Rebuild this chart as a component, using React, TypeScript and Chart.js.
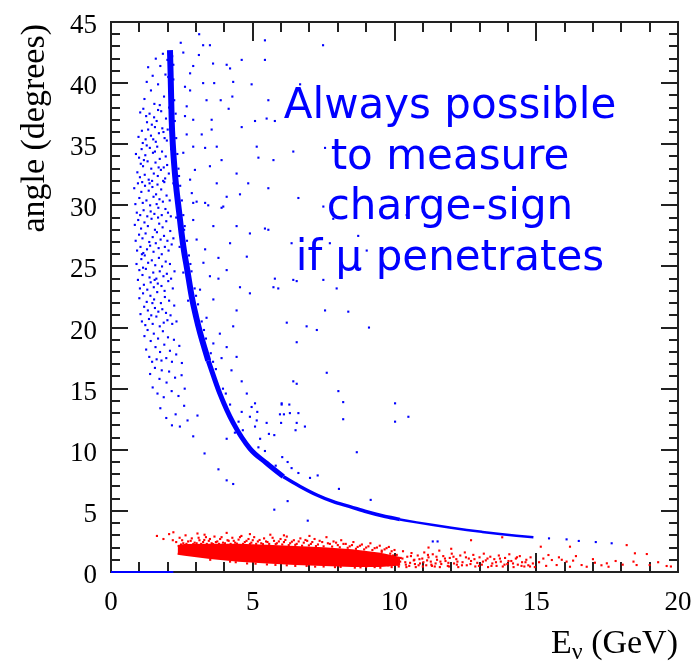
import { useEffect, useRef } from 'react';
import { Chart, registerables } from 'chart.js';

Chart.register(...registerables);

// ---- axis definitions ----
const xMin = 0;
const xMax = 20;
const yMin = 0;
const yMax = 45;
const xTickValues = [0, 5, 10, 15, 20];
const xTickLabels = ['0', '5', '10', '15', '20'];
const yTickValues = [0, 5, 10, 15, 20, 25, 30, 35, 40, 45];
const yTickLabels = ['0', '5', '10', '15', '20', '25', '30', '35', '40', '45'];
const xMinorStep = 1;
const yMinorStep = 1;
const xTitleMain = 'E';
const xTitleSub = 'ν';
const xTitleRest = ' (GeV)';
const yTitle = 'angle (degrees)';
const noteLines = ['Always possible', 'to measure', 'charge-sign', 'if μ penetrates'];

// ---- blue: dense ridge (centre line of the band) ----
const blueRidgeTop = [
  [2.08, 42.7], [2.1, 41.0], [2.12, 39.0], [2.14, 37.0], [2.18, 35.0], [2.23, 33.3],
  [2.3, 31.5], [2.4, 29.5], [2.49, 27.7], [2.58, 26.2], [2.67, 25.0], [2.85, 22.5],
  [3.0, 20.9], [3.14, 19.6], [3.43, 17.3],
];
const blueRidgeMid = [
  [3.43, 17.3], [3.84, 14.6], [4.31, 12.2], [4.9, 10.1], [5.49, 8.9], [6.08, 7.8],
];
const blueRidgeLow = [
  [6.08, 7.8], [6.67, 7.0], [7.26, 6.3], [7.84, 5.75], [8.43, 5.35], [9.02, 4.93],
  [9.6, 4.58], [10.19, 4.3],
];
const blueRidgeTail = [
  [10.19, 4.3], [10.78, 4.06], [11.37, 3.84], [12.0, 3.62], [12.55, 3.44], [13.1, 3.28],
  [13.72, 3.11], [14.3, 2.97], [14.9, 2.84],
];
const blueZeroLine = [[0, 0], [2.2, 0]];

// ---- blue: events scattered just beside the ridge ----
const blueRidgeFringe = [
  [2.16, 42.2], [2.2, 40.3], [2.23, 38.6], [2.25, 36.9], [2.3, 35.5], [2.34, 34.2], [2.38, 33.0], [2.44, 31.6],
  [2.5, 30.4], [2.55, 29.2], [2.6, 28.3], [2.68, 27.1], [2.75, 25.9], [2.84, 24.6], [2.95, 23.2], [3.07, 21.9],
  [3.2, 20.5], [3.35, 19.1], [3.52, 17.9], [3.7, 16.6], [3.95, 15.0], [4.2, 13.7], [4.5, 12.3], [2.2, 41.5],
  [2.28, 37.5], [2.4, 32.4], [2.58, 28.0], [2.8, 25.2], [3.0, 22.6], [3.28, 19.8], [3.6, 17.2], [4.05, 14.6],
  [4.65, 11.6], [5.2, 10.2], [2.02, 40.5], [2.05, 38.0], [2.12, 34.6], [2.2, 31.8], [2.3, 29.0], [2.42, 26.6],
  [2.55, 24.5], [2.72, 22.2],
];

// ---- blue: scattered events left of the ridge ----
const blueLeftCloud = [
  [1.31, 41.3], [1.47, 40.6], [1.58, 42.0], [1.74, 41.4], [1.83, 42.4], [1.92, 40.7], [1.41, 39.4], [1.66, 39.9],
  [1.99, 41.9], [1.18, 38.7], [1.53, 38.3], [1.87, 38.9], [1.26, 40.1], [1.72, 38.2],
  [1.03, 37.6], [1.09, 36.1], [1.14, 37.9], [1.22, 35.4], [1.27, 36.8], [1.36, 37.5], [1.41, 35.7], [1.44, 36.6],
  [1.52, 37.2], [1.58, 35.2], [1.61, 36.9], [1.69, 35.9], [1.77, 37.7], [1.81, 36.3], [1.89, 35.5], [1.94, 37.1],
  [2.0, 36.2], [0.97, 35.6], [1.12, 35.1], [1.31, 36.2], [1.49, 35.4], [1.66, 37.8], [1.85, 36.0], [1.24, 37.3],
  [1.55, 36.4], [1.97, 35.3],
  [0.88, 34.2], [0.93, 32.7], [0.99, 33.9], [1.02, 32.3], [1.08, 34.6], [1.13, 33.2], [1.19, 32.5], [1.21, 34.1],
  [1.29, 33.6], [1.33, 32.1], [1.37, 34.7], [1.42, 33.0], [1.48, 34.3], [1.51, 32.6], [1.57, 33.5], [1.63, 34.8],
  [1.65, 32.4], [1.72, 33.8], [1.76, 32.9], [1.8, 34.4], [1.86, 33.1], [1.91, 32.2], [1.93, 34.0], [1.98, 33.3],
  [2.04, 32.6], [1.05, 33.4], [1.26, 34.9], [1.45, 32.0], [1.68, 33.1], [1.84, 32.0], [1.16, 33.7], [1.55, 34.4],
  [0.82, 31.4], [0.86, 30.1], [0.91, 29.4], [0.95, 31.8], [1.0, 30.6], [1.03, 29.2], [1.07, 31.1], [1.12, 30.2],
  [1.15, 29.6], [1.2, 31.6], [1.25, 30.4], [1.28, 29.1], [1.33, 31.2], [1.38, 30.0], [1.4, 29.5], [1.46, 31.5],
  [1.5, 30.7], [1.53, 29.3], [1.59, 30.9], [1.64, 31.7], [1.67, 29.8], [1.71, 30.5], [1.77, 31.3], [1.79, 29.2],
  [1.83, 30.3], [1.88, 31.9], [1.92, 29.7], [1.96, 30.8], [2.01, 29.4], [2.07, 30.4], [2.11, 29.1], [1.1, 31.9],
  [1.36, 31.8], [1.61, 30.1],
  [0.84, 28.4], [0.87, 27.1], [0.92, 26.3], [0.96, 28.8], [0.99, 27.6], [1.04, 26.6], [1.06, 28.1], [1.11, 27.3],
  [1.14, 26.1], [1.18, 28.6], [1.22, 27.7], [1.27, 26.4], [1.3, 28.3], [1.35, 27.0], [1.38, 26.7], [1.43, 28.9],
  [1.47, 27.4], [1.5, 26.2], [1.55, 28.0], [1.58, 26.9], [1.62, 27.8], [1.68, 26.5], [1.7, 28.5], [1.75, 27.2],
  [1.79, 26.0], [1.82, 28.2], [1.87, 27.5], [1.9, 26.6], [1.95, 28.7], [1.99, 27.1], [2.03, 26.3], [2.09, 27.9],
  [2.14, 26.8], [2.2, 27.3], [1.09, 26.0], [1.66, 29.0],
  [0.9, 25.2], [0.95, 23.9], [1.0, 24.7], [1.02, 23.2], [1.07, 25.6], [1.11, 24.3], [1.16, 23.5], [1.19, 25.9],
  [1.23, 24.8], [1.28, 23.1], [1.31, 25.3], [1.36, 24.1], [1.4, 23.7], [1.44, 25.5], [1.49, 24.5], [1.51, 23.3],
  [1.56, 25.1], [1.6, 24.0], [1.65, 23.6], [1.69, 25.7], [1.72, 24.6], [1.78, 23.4], [1.8, 25.0], [1.85, 24.2],
  [1.89, 23.0], [1.93, 25.4], [1.97, 24.4], [2.02, 23.8], [2.08, 25.2], [2.12, 24.0], [2.18, 23.2], [2.24, 24.6],
  [1.13, 24.9], [1.54, 23.9],
  [1.0, 22.4], [1.04, 21.1], [1.09, 20.5], [1.13, 22.8], [1.17, 21.7], [1.21, 20.2], [1.26, 22.1], [1.3, 21.4],
  [1.34, 20.7], [1.39, 22.6], [1.42, 21.0], [1.47, 20.3], [1.52, 22.3], [1.55, 21.6], [1.6, 20.9], [1.63, 22.9],
  [1.67, 21.3], [1.72, 20.1], [1.76, 22.0], [1.81, 21.5], [1.86, 20.4], [1.9, 22.5], [1.94, 21.2], [1.99, 20.6],
  [2.05, 22.2], [2.1, 21.0], [2.16, 20.3], [2.23, 21.8], [2.31, 20.5], [1.46, 22.0],
  [1.18, 19.3], [1.24, 18.2], [1.29, 19.8], [1.35, 17.6], [1.4, 18.9], [1.45, 17.2], [1.51, 19.5], [1.57, 18.4],
  [1.61, 17.4], [1.66, 19.1], [1.73, 18.0], [1.78, 17.3], [1.83, 19.7], [1.88, 18.6], [1.95, 17.5], [2.01, 19.2],
  [2.08, 18.1], [2.15, 17.2], [2.22, 19.0], [2.3, 17.8], [2.41, 18.5], [2.5, 17.1],
  [1.38, 16.2], [1.47, 15.1], [1.55, 16.7], [1.64, 14.6], [1.71, 15.8], [1.79, 16.5], [1.86, 14.3], [1.96, 15.5],
  [2.05, 16.4], [2.14, 14.8], [2.26, 15.9], [2.38, 14.4], [2.49, 16.1], [2.6, 15.0],
  [1.74, 13.4], [1.95, 12.6], [2.15, 12.0], [2.28, 12.9], [2.43, 11.9], [2.58, 13.6], [2.7, 12.4], [2.9, 11.1],
  [3.05, 12.8], [3.3, 9.7], [3.79, 8.4], [4.08, 7.5], [4.31, 7.2],
];

// ---- blue: scattered events right of the ridge ----
const blueRightCloud = [
  [3.11, 44.0], [2.46, 43.3], [3.25, 43.1], [3.49, 43.1], [2.55, 42.5], [3.1, 42.3], [3.6, 41.6], [4.08, 41.5],
  [4.61, 41.9], [5.43, 43.5], [5.43, 41.9], [2.9, 41.4], [2.79, 40.8], [4.2, 41.2], [3.64, 40.0], [3.25, 40.0],
  [2.61, 39.7], [2.79, 39.4], [4.31, 40.1], [4.96, 39.9], [5.55, 38.6], [3.87, 38.6], [4.28, 38.9], [3.37, 38.6],
  [2.67, 38.1], [4.15, 37.9], [2.61, 37.3], [2.9, 37.0], [3.55, 37.0], [4.61, 36.4], [5.08, 36.9], [5.49, 37.1],
  [2.67, 35.8], [3.2, 35.8], [3.55, 36.2], [2.9, 34.8], [3.32, 34.7], [3.73, 34.8], [5.14, 34.8], [2.55, 34.3],
  [3.9, 33.7], [3.49, 33.2], [2.96, 32.9], [4.43, 32.6], [4.84, 31.8], [5.2, 33.9], [2.79, 32.1], [3.73, 31.8],
  [2.85, 31.0], [3.02, 30.3], [3.32, 30.2], [3.96, 29.9], [4.55, 30.9], [4.08, 30.7], [5.55, 31.4],
  [2.9, 30.2], [3.43, 30.0], [3.9, 29.8], [2.9, 28.8], [3.61, 28.3], [4.43, 28.3], [4.9, 27.7], [3.02, 27.2],
  [4.2, 26.9], [3.32, 26.4], [3.79, 25.7], [4.79, 25.8], [3.26, 25.3], [4.08, 24.7], [3.49, 24.2], [3.79, 24.0],
  [4.55, 23.3], [3.14, 23.1], [4.9, 22.8], [3.61, 22.3], [4.43, 21.4], [3.37, 20.8], [3.84, 19.5], [4.31, 20.1],
  [3.61, 18.7], [4.08, 18.4], [3.9, 17.5], [4.43, 17.6], [4.25, 16.5], [4.61, 15.6], [4.79, 14.6], [4.96, 13.5],
  [4.61, 13.1], [5.14, 12.4], [4.08, 10.9], [4.37, 11.4],
  [5.43, 28.1], [5.55, 28.0], [5.78, 24.0], [5.9, 23.2], [6.2, 20.4], [6.55, 23.8], [6.31, 13.0], [6.55, 12.2],
];

// ---- blue: sparse events far from the ridge ----
const blueFarCloud = [
  [7.48, 43.1], [6.67, 39.9], [5.78, 36.9], [5.73, 33.7], [6.43, 34.4], [7.55, 34.7], [6.61, 30.6], [7.49, 29.9],
  [7.84, 28.9], [10.43, 29.2], [8.72, 27.5], [7.72, 26.9], [9.02, 26.3], [6.37, 26.9], [6.43, 23.9], [7.49, 23.9],
  [7.96, 23.2], [5.73, 23.3], [8.37, 21.3], [7.55, 21.4], [6.9, 20.1], [6.55, 18.8], [7.26, 19.8], [6.43, 15.6],
  [6.55, 15.4], [7.61, 16.3], [8.02, 14.8], [8.19, 13.9], [6.02, 13.7], [9.1, 20.0],
  [5.08, 13.8], [6.02, 13.8], [6.29, 13.7], [10.02, 13.8], [5.16, 13.1], [5.96, 12.9], [6.1, 12.9], [6.61, 13.0],
  [8.19, 12.5], [10.49, 12.7], [10.02, 12.3], [4.9, 12.7], [5.08, 11.9], [5.49, 12.2], [6.0, 12.2], [6.84, 11.9],
  [6.51, 11.6], [5.57, 11.3], [5.76, 11.2], [5.26, 10.9], [5.43, 9.9], [8.67, 9.8], [6.04, 9.4], [6.23, 9.0],
  [5.81, 8.7], [6.37, 8.5], [6.61, 8.1], [7.02, 7.7], [7.29, 7.9], [8.04, 6.8], [9.16, 5.9], [6.23, 5.8],
  [5.76, 5.1], [6.94, 4.2], [11.35, 2.5], [11.52, 2.5],
  [16.07, 2.67], [16.5, 2.54], [17.1, 2.45], [17.66, 2.35], [15.45, 2.75],
];

// ---- red: dense core outline (upper and lower edge of the solid band) ----
const redCoreUpper = [
  [2.35, 2.12], [2.6, 2.2], [3.5, 2.22], [4.5, 2.22], [5.5, 2.15], [6.5, 2.05],
  [7.5, 1.95], [8.5, 1.78], [9.5, 1.5], [10.2, 1.15],
];
const redCoreLower = [
  [2.35, 1.5], [2.6, 1.42], [3.5, 1.15], [4.5, 0.93], [5.5, 0.78], [6.5, 0.66],
  [7.5, 0.57], [8.5, 0.5], [9.5, 0.5], [10.2, 0.62],
];

// ---- red: scattered events around the core ----
const redScatter = [
  [1.62, 2.95], [1.85, 2.7], [2.05, 3.1], [2.18, 2.6], [2.3, 2.45], [2.42, 2.8], [2.55, 2.35], [2.63, 3.0],
  [2.72, 2.5], [2.85, 2.75], [2.95, 2.4], [3.05, 3.15], [3.12, 2.6], [3.25, 2.45], [3.35, 2.85], [3.45, 2.55],
  [3.55, 2.35], [3.65, 2.9], [3.75, 2.5], [3.85, 2.7], [3.95, 2.4], [4.08, 3.2], [4.15, 2.55], [4.28, 2.8],
  [4.38, 2.4], [4.5, 2.65], [4.6, 2.95], [4.72, 2.45], [4.85, 2.7], [4.95, 2.4], [5.05, 2.85], [5.18, 2.5],
  [5.3, 2.35], [5.4, 2.75], [5.52, 2.45], [5.62, 3.05], [5.75, 2.55], [5.85, 2.35], [5.98, 2.7], [6.1, 2.45],
  [6.2, 2.9], [6.32, 2.35], [6.45, 2.6], [6.55, 2.3], [6.68, 2.75], [6.8, 2.4], [6.92, 2.55], [7.05, 2.3],
  [7.18, 2.7], [7.3, 2.25], [7.45, 2.45], [7.6, 2.85], [7.72, 2.3], [7.85, 2.5], [8.0, 2.2], [8.12, 2.6],
  [8.28, 2.3], [8.42, 2.1], [8.55, 2.45], [8.7, 2.05], [8.85, 2.25], [9.0, 2.0], [9.15, 2.35], [9.3, 1.95],
  [9.48, 2.15], [9.65, 1.85], [9.8, 2.05], [10.0, 1.8],
  [2.47, 2.25], [2.51, 2.6], [2.66, 2.3], [2.78, 2.2], [2.81, 2.55], [2.9, 2.28], [3.02, 2.35], [3.09, 2.8],
  [3.18, 2.3], [3.29, 2.62], [3.38, 2.3], [3.49, 2.7], [3.6, 2.28], [3.7, 2.45], [3.81, 2.3], [3.9, 2.85],
  [4.02, 2.35], [4.11, 2.6], [4.22, 2.3], [4.33, 2.55], [4.44, 2.32], [4.55, 2.85], [4.66, 2.3], [4.78, 2.55],
  [4.9, 2.3], [5.0, 2.6], [5.12, 2.3], [5.24, 2.62], [5.36, 2.28], [5.47, 2.5], [5.58, 2.3], [5.7, 2.8],
  [5.81, 2.28], [5.92, 2.5], [6.04, 2.25], [6.15, 2.62], [6.27, 2.2], [6.38, 2.48], [6.5, 2.22], [6.62, 2.5],
  [6.74, 2.15], [6.86, 2.62], [6.98, 2.18], [7.1, 2.45], [7.23, 2.12], [7.36, 2.55], [7.5, 2.1], [7.65, 2.35],
  [7.8, 2.08], [7.94, 2.4], [8.07, 2.02], [8.2, 2.3], [8.35, 1.98], [8.5, 2.2], [8.64, 1.9], [8.78, 2.15],
  [8.93, 1.85], [9.08, 2.1], [9.22, 1.8], [9.38, 2.0], [9.55, 1.75], [9.72, 1.95], [9.9, 1.7],
  [3.3, 3.05], [4.9, 3.1], [6.1, 3.0], [7.0, 2.95], [2.2, 3.25],
  [3.5, 1.0], [4.2, 0.85], [4.8, 0.7], [5.5, 0.62], [6.2, 0.55], [6.9, 0.5], [7.5, 0.45], [8.1, 0.42],
  [8.8, 0.38], [9.3, 0.4], [4.4, 0.8], [5.1, 0.68], [5.8, 0.58], [6.5, 0.5], [7.2, 0.44], [7.9, 0.4],
  [8.6, 0.36], [9.0, 0.42], [9.5, 0.35], [9.9, 0.4],
  [9.55, 1.65], [9.62, 0.9], [9.7, 1.3], [9.78, 0.55], [9.85, 1.5], [9.92, 1.05], [10.0, 0.7], [10.08, 1.4],
  [10.15, 0.45], [10.22, 1.15], [10.3, 1.7], [10.38, 0.8], [10.45, 1.25], [10.52, 0.5], [10.6, 1.55], [10.68, 0.95],
  [10.75, 0.4], [10.82, 1.35], [10.9, 0.7], [10.98, 1.1], [11.05, 1.6], [11.12, 0.55], [11.2, 1.2], [11.28, 0.85],
  [11.35, 1.45], [11.42, 0.45], [11.5, 1.0], [11.58, 1.75], [11.65, 0.65], [11.72, 1.3], [11.8, 0.9], [11.88, 0.5],
  [11.95, 1.15], [12.02, 1.5], [12.1, 0.7], [12.18, 1.05], [12.25, 0.4], [12.32, 1.35], [12.4, 0.8], [12.48, 1.6],
  [12.55, 0.55], [12.62, 1.1], [12.7, 0.9], [12.78, 1.4], [12.85, 0.45], [12.92, 0.75], [13.0, 1.2], [13.08, 0.6],
  [13.15, 1.5], [13.22, 0.95], [13.3, 0.4], [13.38, 1.25], [13.45, 0.7], [13.52, 1.05], [13.6, 0.5], [13.68, 1.35],
  [13.75, 0.85], [13.82, 0.45], [13.9, 1.15], [13.98, 0.65], [14.05, 1.45], [14.12, 0.9], [14.2, 0.4], [14.28, 1.1],
  [14.35, 0.6], [14.42, 1.3], [14.5, 0.8], [14.58, 0.45], [14.65, 1.0], [14.72, 0.55], [14.8, 1.2], [14.88, 0.7],
  [14.95, 0.4],
  [9.6, 0.7], [9.9, 0.6], [10.1, 1.0], [10.4, 0.6], [10.7, 1.0], [11.0, 0.45], [11.3, 0.6], [11.6, 0.4],
  [11.9, 0.75], [12.2, 0.6], [10.2, 0.85], [10.55, 0.75], [10.85, 0.55], [11.15, 0.95], [11.45, 0.7],
  [9.58, 1.2], [9.75, 0.8], [9.95, 1.35], [10.12, 0.6], [10.28, 1.1], [10.42, 0.4], [10.58, 1.3], [10.72, 0.65],
  [10.88, 1.05], [11.02, 0.8], [11.18, 1.4], [11.32, 0.5], [11.48, 1.25], [11.62, 0.85], [11.78, 1.1], [11.92, 0.45],
  [12.08, 1.25], [12.22, 0.85], [12.38, 0.55], [12.52, 1.2], [12.68, 0.65], [12.82, 1.05], [12.98, 0.5], [13.12, 0.85],
  [13.28, 1.1], [13.42, 0.5], [13.58, 0.8], [13.72, 1.1], [13.88, 0.6], [14.02, 0.9], [14.18, 0.7], [14.32, 1.2],
  [14.48, 0.5], [14.62, 0.8], [14.78, 0.45],
  [15.43, 1.39], [15.55, 0.98], [15.72, 0.57], [16.07, 0.85], [16.3, 0.93], [16.19, 0.43], [16.6, 0.57], [16.78, 0.43],
  [17.07, 0.76], [17.49, 0.71], [17.55, 0.43], [18.43, 0.85], [18.54, 0.57], [18.9, 1.47], [19.0, 0.57], [19.6, 0.49],
  [18.48, 1.53], [18.19, 2.2], [15.16, 2.07], [16.19, 2.07], [15.8, 1.2], [15.1, 0.8], [15.25, 1.1], [15.35, 0.5],
  [15.9, 1.0], [16.4, 1.3], [17.0, 1.05], [17.3, 0.55], [17.8, 0.9], [18.05, 0.6], [19.3, 0.8], [19.75, 0.45],
  [12.7, 2.6], [13.8, 2.84], [11.2, 2.0], [12.0, 1.9],
];

const BLUE = '#0000ff';
const RED = '#ff0000';
const AXIS = '#222222';
const SERIF = '"Liberation Serif", "Times New Roman", serif';

const toXY = (arr: number[][]) => arr.map(([x, y]) => ({ x, y }));

const rootAxesPlugin = {
  id: 'rootAxes',
  beforeDatasetsDraw(chart: any) {
    const { ctx, chartArea: a, scales } = chart;
    const xs = scales.x;
    const ys = scales.y;
    ctx.save();
    ctx.strokeStyle = AXIS;
    ctx.lineWidth = 2;
    ctx.beginPath();
    for (let v = xMin; v <= xMax + 1e-9; v += xMinorStep) {
      const px = Math.round(xs.getPixelForValue(v));
      const major = xTickValues.includes(v);
      const len = major ? 19 : 10;
      ctx.moveTo(px, a.bottom);
      ctx.lineTo(px, a.bottom - len);
      ctx.moveTo(px, a.top);
      ctx.lineTo(px, a.top + len);
    }
    for (let v = yMin; v <= yMax + 1e-9; v += yMinorStep) {
      const py = Math.round(ys.getPixelForValue(v));
      const major = yTickValues.includes(v);
      const len = major ? 17 : 9;
      ctx.moveTo(a.left, py);
      ctx.lineTo(a.left + len, py);
      ctx.moveTo(a.right, py);
      ctx.lineTo(a.right - len, py);
    }
    ctx.stroke();
    ctx.strokeRect(a.left, a.top, a.right - a.left, a.bottom - a.top);
    ctx.restore();
  },
  afterDraw(chart: any) {
    const { ctx, chartArea: a, scales } = chart;
    const xs = scales.x;
    const ys = scales.y;
    ctx.save();
    ctx.fillStyle = '#000';
    ctx.font = `27px ${SERIF}`;
    ctx.textBaseline = 'alphabetic';
    ctx.textAlign = 'center';
    xTickValues.forEach((v, i) => {
      ctx.fillText(xTickLabels[i], xs.getPixelForValue(v), a.bottom + 38);
    });
    ctx.textAlign = 'right';
    yTickValues.forEach((v, i) => {
      ctx.fillText(yTickLabels[i], a.left - 14, ys.getPixelForValue(v) + 11);
    });

    // y title
    ctx.save();
    ctx.font = `34px ${SERIF}`;
    ctx.translate(44, a.top + 2);
    ctx.rotate(-Math.PI / 2);
    ctx.textAlign = 'right';
    ctx.fillText(yTitle, 0, 0);
    ctx.restore();

    // x title with subscript
    const main = `34px ${SERIF}`;
    const sub = `24px ${SERIF}`;
    ctx.font = main;
    const wMain = ctx.measureText(xTitleMain).width;
    const wRest = ctx.measureText(xTitleRest).width;
    ctx.font = sub;
    const wSub = ctx.measureText(xTitleSub).width;
    const baseY = a.bottom + 81;
    let cx = a.right - (wMain + wSub + wRest);
    ctx.textAlign = 'left';
    ctx.font = main;
    ctx.fillText(xTitleMain, cx, baseY);
    cx += wMain;
    ctx.font = sub;
    ctx.fillText(xTitleSub, cx, baseY + 6);
    cx += wSub;
    ctx.font = main;
    ctx.fillText(xTitleRest, cx, baseY);

    // annotation
    ctx.fillStyle = BLUE;
    ctx.font = '42px "DejaVu Sans", sans-serif';
    ctx.textAlign = 'center';
    noteLines.forEach((line, i) => {
      ctx.fillText(line, 450, 118 + i * 50.5);
    });
    ctx.restore();
  },
};

const dots = (data: number[][], color: string) => ({
  data: toXY(data),
  showLine: false,
  pointStyle: 'rect',
  pointRadius: 1.5,
  pointBorderWidth: 0,
  backgroundColor: color,
  borderColor: color,
});

const ridge = (data: number[][], width: number) => ({
  data: toXY(data),
  showLine: true,
  pointRadius: 0,
  borderColor: BLUE,
  backgroundColor: BLUE,
  borderWidth: width,
  cubicInterpolationMode: 'monotone',
  fill: false,
});

export default function App() {
  const ref = useRef<HTMLCanvasElement | null>(null);
  useEffect(() => {
    document.body.style.margin = '0';
    if (!ref.current) return;
    const chart = new Chart(ref.current, {
      type: 'scatter',
      data: {
        datasets: [
          dots(blueLeftCloud, BLUE) as any,
          dots(blueRightCloud, BLUE) as any,
          dots(blueFarCloud, BLUE) as any,
          dots(blueRidgeFringe, BLUE) as any,
          ridge(blueRidgeTop, 6) as any,
          ridge(blueRidgeMid, 5) as any,
          ridge(blueRidgeLow, 3.5) as any,
          ridge(blueRidgeTail, 2.5) as any,
          { ...ridge(blueZeroLine, 2), clip: false } as any,
          dots(redScatter, RED) as any,
          {
            data: toXY(redCoreUpper),
            showLine: true,
            pointRadius: 0,
            borderColor: RED,
            borderWidth: 2,
            backgroundColor: RED,
            fill: '+1',
          } as any,
          {
            data: toXY(redCoreLower),
            showLine: true,
            pointRadius: 0,
            borderColor: RED,
            borderWidth: 2,
            backgroundColor: RED,
            fill: false,
          } as any,
        ],
      },
      options: {
        animation: false,
        responsive: false,
        devicePixelRatio: 1,
        events: [],
        layout: { padding: { left: 111, top: 22, right: 13, bottom: 91 } },
        plugins: {
          legend: { display: false },
          tooltip: { enabled: false },
        },
        scales: {
          x: { type: 'linear', min: xMin, max: xMax, display: false },
          y: { type: 'linear', min: yMin, max: yMax, display: false },
        },
      },
      plugins: [rootAxesPlugin],
    });
    return () => chart.destroy();
  }, []);
  return (
    <div style={{ position: 'absolute', left: 0, top: 0, width: 691, height: 663, background: '#fff' }}>
      <canvas ref={ref} width={691} height={663} style={{ width: 691, height: 663 }} />
    </div>
  );
}
